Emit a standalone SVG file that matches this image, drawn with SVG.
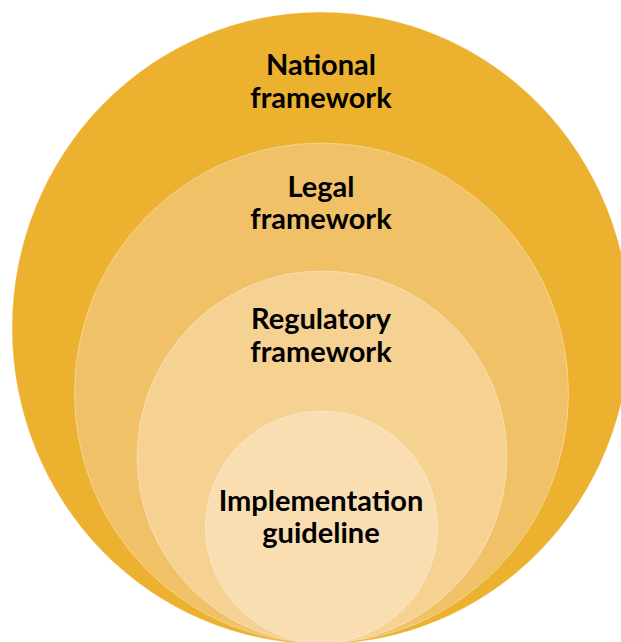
<svg xmlns="http://www.w3.org/2000/svg" width="621" height="642" viewBox="0 0 621 642">
<style>
.c{stroke:#ffffff;stroke-opacity:0.35;stroke-width:1}
.t{font-family:Lato,"Open Sans","Liberation Sans",sans-serif;font-weight:bold;font-size:29px;fill:#000;text-anchor:middle}
</style>
<rect width="621" height="642" fill="#ffffff"/>
<g id="national">
<ellipse class="c" cx="321" cy="328" rx="309" ry="316" fill="#EBB12F"/>
<text class="t" x="321" y="75">National</text>
<text class="t" x="321" y="108">framework</text>
</g>
<g id="legal">
<ellipse class="c" cx="321.5" cy="393" rx="247" ry="250" fill="#F0C166"/>
<text class="t" x="321" y="197">Legal</text>
<text class="t" x="321" y="229">framework</text>
</g>
<g id="regulatory">
<ellipse class="c" cx="322" cy="457" rx="185" ry="186" fill="#F5D192"/>
<text class="t" x="321" y="329">Regulatory</text>
<text class="t" x="321" y="362">framework</text>
</g>
<g id="implementation">
<ellipse class="c" cx="321.5" cy="527" rx="116" ry="116" fill="#F8DEB0"/>
<text class="t" x="321" y="511">Implementation</text>
<text class="t" x="321" y="543">guideline</text>
</g>
<g id="connectors"/>
</svg>
